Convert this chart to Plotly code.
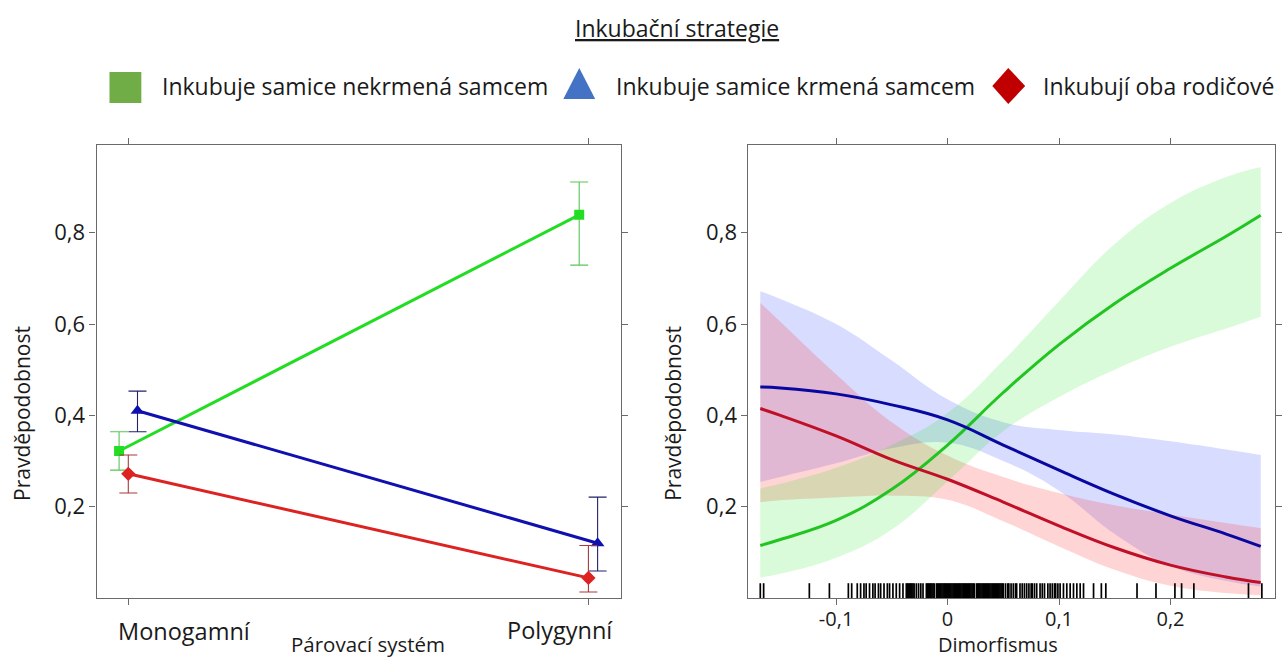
import numpy as np
import plotly.graph_objects as go

W, H = 1282, 658

# ---------------- data: left panel (Párovací systém) ----------------
categories = ["Monogamní", "Polygynní"]
green_p = [0.322, 0.839]
green_lo = [0.280, 0.729]
green_hi = [0.364, 0.911]
blue_p = [0.410, 0.120]
blue_lo = [0.364, 0.059]
blue_hi = [0.453, 0.221]
red_p = [0.272, 0.044]
red_lo = [0.230, 0.013]
red_hi = [0.313, 0.115]

# ---------------- data: right panel (Dimorfismus) ----------------
dim_x = [-0.168, -0.15, -0.10, -0.05, 0.0, 0.05, 0.10, 0.15, 0.20, 0.25, 0.281]
green_fit = [0.115, 0.128, 0.170, 0.238, 0.335, 0.450, 0.555, 0.645, 0.722, 0.792, 0.838]
green_up = [0.240, 0.250, 0.285, 0.335, 0.405, 0.520, 0.650, 0.775, 0.865, 0.922, 0.944]
green_dn = [0.045, 0.053, 0.088, 0.150, 0.255, 0.365, 0.440, 0.500, 0.550, 0.590, 0.616]
blue_fit = [0.462, 0.460, 0.447, 0.423, 0.390, 0.335, 0.280, 0.227, 0.180, 0.140, 0.113]
blue_up = [0.672, 0.655, 0.600, 0.520, 0.435, 0.385, 0.368, 0.358, 0.343, 0.325, 0.313]
blue_dn = [0.254, 0.265, 0.295, 0.328, 0.340, 0.300, 0.235, 0.140, 0.070, 0.037, 0.025]
red_fit = [0.415, 0.400, 0.355, 0.303, 0.260, 0.210, 0.158, 0.110, 0.072, 0.046, 0.034]
red_up = [0.646, 0.605, 0.490, 0.385, 0.312, 0.265, 0.230, 0.203, 0.183, 0.164, 0.153]
red_dn = [0.210, 0.214, 0.220, 0.224, 0.215, 0.168, 0.113, 0.062, 0.027, 0.011, 0.006]

rug = [-0.168, -0.165, -0.124, -0.106, -0.089, -0.086, -0.081, -0.078, -0.075, -0.073,
       -0.070, -0.067, -0.065, -0.062, -0.060, -0.057, -0.054, -0.052, -0.049, -0.046,
       -0.043, -0.040, -0.037, -0.036, -0.035, -0.034, -0.033, -0.032, -0.031, -0.030,
       -0.028, -0.026, -0.024, -0.022, -0.019, -0.018, -0.017, -0.016, -0.015, -0.014,
       -0.013, -0.012, -0.010, -0.009, -0.008, -0.007, -0.006, -0.005, -0.004, -0.003,
       -0.002, -0.001, 0.000, 0.001, 0.002, 0.003, 0.004, 0.005, 0.006, 0.007, 0.008,
       0.009, 0.010, 0.011, 0.012, 0.013, 0.014, 0.015, 0.016, 0.017, 0.018, 0.019,
       0.020, 0.021, 0.022, 0.023, 0.024, 0.026, 0.027, 0.028, 0.029, 0.030, 0.031,
       0.032, 0.033, 0.034, 0.035, 0.036, 0.037, 0.038, 0.039, 0.040, 0.041, 0.042,
       0.043, 0.044, 0.045, 0.046, 0.047, 0.048, 0.049, 0.050, 0.052, 0.054, 0.055,
       0.057, 0.059, 0.061, 0.062, 0.065, 0.067, 0.069, 0.071, 0.073, 0.075, 0.076,
       0.078, 0.080, 0.083, 0.085, 0.087, 0.090, 0.092, 0.094, 0.096, 0.097, 0.099,
       0.101, 0.104, 0.107, 0.110, 0.113, 0.116, 0.119, 0.122, 0.131, 0.138, 0.142,
       0.170, 0.187, 0.204, 0.210, 0.221, 0.270, 0.282]

y_ticks = [0.2, 0.4, 0.6, 0.8]
y_ticktext = ["0,2", "0,4", "0,6", "0,8"]
x2_ticks = [-0.1, 0.0, 0.1, 0.2]
x2_ticktext = ["-0,1", "0", "0,1", "0,2"]

legend_names = ["Inkubuje samice nekrmená samcem", "Inkubuje samice krmená samcem", "Inkubují oba rodičové"]
title_text = "Inkubační strategie"

FONT = "Open Sans"
TXT = "#1a1a1a"
AX = "#6a6a6a"

fig = go.Figure()

# ---------------- left panel ----------------
pos = np.arange(len(categories), dtype=float)
series_left = [
    (green_p, green_lo, green_hi, -0.02, "#22dd22", "#55c855", "square", 10),
    (blue_p, blue_lo, blue_hi, 0.02, "#1010b0", "#20206e", "triangle-up", 12),
    (red_p, red_lo, red_hi, 0.0, "#dd2222", "#a83a3a", "diamond", 11),
]
for vals, lo, hi, off, col, ecol, sym, ms in series_left:
    v = np.array(vals); l = np.array(lo); h = np.array(hi)
    fig.add_trace(go.Scatter(
        x=pos + off, y=v, mode="lines+markers", xaxis="x", yaxis="y",
        line=dict(color=col, width=3), marker=dict(symbol=sym, size=ms, color=col),
        error_y=dict(type="data", array=h - v, arrayminus=v - l, color=ecol,
                     thickness=1.1, width=9),
        showlegend=False, hoverinfo="skip"))

# ---------------- right panel ----------------
SM = 1.2
bands = [
    (blue_dn, blue_up, "rgba(60,80,255,0.20)"),
    (red_dn, red_up, "rgba(255,60,60,0.22)"),
    (green_dn, green_up, "rgba(0,230,0,0.15)"),
]
for dn, up, fc in bands:
    fig.add_trace(go.Scatter(x=dim_x, y=dn, mode="lines", xaxis="x2", yaxis="y2",
                             line=dict(width=0, shape="spline", smoothing=SM),
                             showlegend=False, hoverinfo="skip"))
    fig.add_trace(go.Scatter(x=dim_x, y=up, mode="lines", xaxis="x2", yaxis="y2",
                             line=dict(width=0, shape="spline", smoothing=SM),
                             fill="tonexty", fillcolor=fc,
                             showlegend=False, hoverinfo="skip"))
for fit, col in [(green_fit, "#22c422"), (blue_fit, "#0808a0"), (red_fit, "#c01028")]:
    fig.add_trace(go.Scatter(x=dim_x, y=fit, mode="lines", xaxis="x2", yaxis="y2",
                             line=dict(color=col, width=3, shape="spline", smoothing=SM),
                             showlegend=False, hoverinfo="skip"))

fig.add_trace(go.Scatter(
    x=rug, y=[0.014] * len(rug), mode="markers", xaxis="x2", yaxis="y2",
    marker=dict(symbol="line-ns", size=12, color="black",
                line=dict(color="black", width=1.7)),
    showlegend=False, hoverinfo="skip"))

# ---------------- axes ----------------
def px_x(p):
    return p / W

def px_y(p):
    return 1 - p / H

ydom = [px_y(598), px_y(145)]
common = dict(showgrid=False, zeroline=False, showline=True, linecolor=AX, linewidth=1.2,
              ticks="outside", ticklen=6, tickcolor=AX, mirror="ticks",
              tickfont=dict(family=FONT, size=22, color=TXT))

fig.update_layout(
    width=W, height=H, margin=dict(l=0, r=0, t=0, b=0),
    paper_bgcolor="white", plot_bgcolor="white",
    xaxis=dict(domain=[px_x(97), px_x(624)], range=[-0.069, 1.071],
               tickvals=list(pos), showticklabels=False, **common),
    yaxis=dict(domain=ydom, range=[0, 0.992], tickvals=y_ticks, ticktext=y_ticktext, **common),
    xaxis2=dict(domain=[px_x(752), px_x(1281)], range=[-0.1786, 0.2938],
                tickvals=x2_ticks, ticktext=x2_ticktext, anchor="y2", **common),
    yaxis2=dict(domain=ydom, range=[0, 0.992], tickvals=y_ticks, ticktext=y_ticktext,
                anchor="x2", **common),
    showlegend=False,
)
fig.update_layout(xaxis2=dict(tickfont=dict(size=20), ticklabelstandoff=-3))

def txt(x, y, text, size, xanchor="center", angle=0, xref="paper", xshift=0):
    return dict(x=x, y=px_y(y), xref=xref, yref="paper", text=text, showarrow=False,
                xanchor=xanchor, yanchor="middle", textangle=angle, xshift=xshift,
                font=dict(family=FONT, size=size, color=TXT))

ann = []
# category labels (offset from their ticks as in the original)
ann.append(txt(0, 631, categories[0], 23.5, xref="x", xshift=56))
ann.append(txt(1, 630, categories[1], 23.5, xref="x", xshift=-28))
ann.append(txt(px_x(370), 644, "Párovací systém", 20.5))
ann.append(txt(px_x(1003), 644, "Dimorfismus", 20))
for xp in (22, 676):
    ann.append(txt(px_x(xp), 413, "Pravděpodobnost", 21, angle=-90))
ann.append(txt(px_x(680), 28, "<u>" + title_text + "</u>", 23))
for xs, name in zip([161, 617, 1046], legend_names):
    ann.append(txt(px_x(xs), 86, name, 23, xanchor="left"))

shapes = [
    dict(type="rect", xref="paper", yref="paper", x0=px_x(110), x1=px_x(142),
         y0=px_y(103), y1=px_y(72), fillcolor="#70ad47", line=dict(width=0)),
    dict(type="path", xref="paper", yref="paper",
         path=f"M {px_x(566)} {px_y(99)} L {px_x(598)} {px_y(99)} L {px_x(582)} {px_y(68)} Z",
         fillcolor="#4472c4", line=dict(width=0)),
    dict(type="path", xref="paper", yref="paper",
         path=f"M {px_x(997)} {px_y(86)} L {px_x(1013)} {px_y(68)} L {px_x(1030)} {px_y(86)} L {px_x(1013)} {px_y(104)} Z",
         fillcolor="#c00000", line=dict(width=0)),
]
fig.update_layout(annotations=ann, shapes=shapes)

fig.write_html("out.html")
